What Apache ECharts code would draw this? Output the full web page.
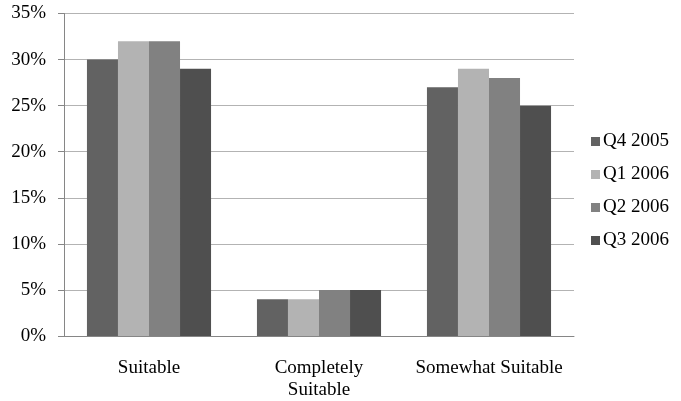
<!DOCTYPE html>
<html><head><meta charset="utf-8">
<script src="https://cdn.jsdelivr.net/npm/echarts@6/dist/echarts.min.js"></script>
<style>html,body{margin:0;padding:0;background:#fff}#c{width:681px;height:401px}</style>
</head><body><div id="c"></div>
<script>
const categories = ['Suitable', 'Completely\nSuitable', 'Somewhat Suitable'];
const seriesNames = ['Q4 2005', 'Q1 2006', 'Q2 2006', 'Q3 2006'];
const q4_2005 = [30, 4, 27];
const q1_2006 = [32, 4, 29];
const q2_2006 = [32, 5, 28];
const q3_2006 = [29, 5, 25];
const colors = ['#626262', '#b3b3b3', '#818181', '#4f4f4f'];
const values = [q4_2005, q1_2006, q2_2006, q3_2006];
const font = '"Liberation Serif", "Times New Roman", serif';
const chart = echarts.init(document.getElementById('c'));
chart.setOption({
  animation: false,
  textStyle: {fontFamily: font},
  grid: {left: 64, right: 107, top: 13.5, bottom: 65},
  legend: {
    orient: 'vertical', left: 586, top: 127, itemWidth: 9, itemHeight: 9, itemGap: 14,
    icon: 'rect', itemStyle: {borderWidth: 0},
    textStyle: {fontFamily: font, fontSize: 19, color: '#000', padding: [0, 0, 0, -2]},
    data: seriesNames
  },
  xAxis: {
    type: 'category', data: categories,
    axisLine: {lineStyle: {color: '#868686'}},
    axisTick: {length: 5, lineStyle: {color: '#868686'}},
    axisLabel: {fontFamily: font, fontSize: 19, color: '#000', margin: 21, lineHeight: 22, interval: 0, hideOverlap: false}
  },
  yAxis: {
    type: 'value', min: 0, max: 35, interval: 5,
    axisLine: {show: true, lineStyle: {color: '#868686'}},
    axisTick: {show: true, length: 6, lineStyle: {color: '#868686'}},
    splitLine: {lineStyle: {color: '#b3b3b3'}},
    axisLabel: {fontFamily: font, fontSize: 19, color: '#000', margin: 18, formatter: v => v + '%'}
  },
  series: seriesNames.map((n, i) => ({
    name: n, type: 'bar', data: values[i], barGap: '0%', barCategoryGap: '27%',
    itemStyle: {color: colors[i]}
  }))
});
</script></body></html>
